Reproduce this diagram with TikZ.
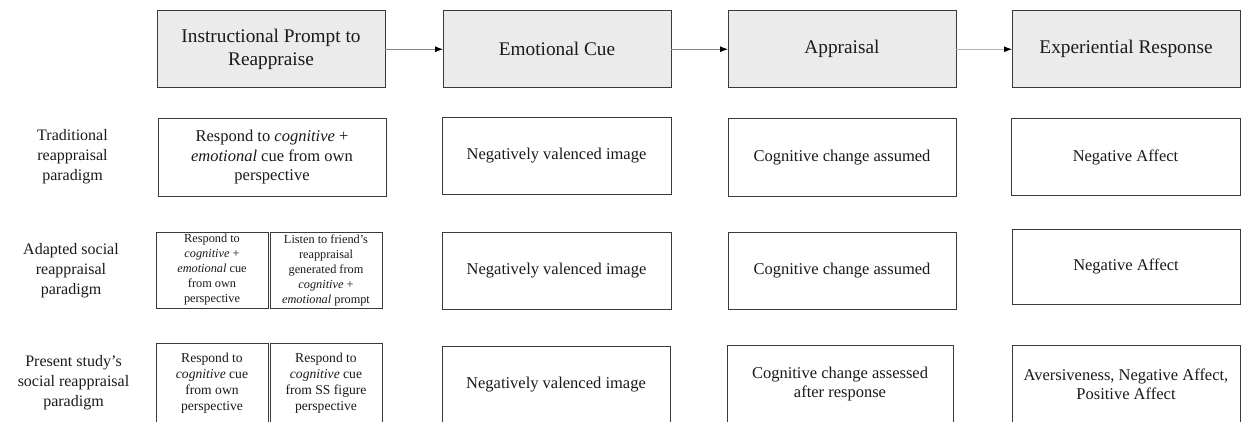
\documentclass[tikz,border=0pt]{standalone}
\usepackage{fontspec}
\setmainfont{Liberation Serif}
\usetikzlibrary{arrows.meta}
\definecolor{hdrfill}{HTML}{EBEBEB}
\definecolor{boxline}{HTML}{3A3A3A}
\definecolor{txt}{HTML}{1A1A1A}
\definecolor{arrline}{HTML}{858585}
\definecolor{arrlight}{HTML}{B0B0B0}
\tikzset{
  basebox/.style={draw=boxline, line width=1pt, inner sep=0pt, outer sep=0pt,
    align=center, text=txt, rectangle},
  hdrbox/.style={basebox, fill=hdrfill, minimum width=228pt, minimum height=77.5pt,
    font=\fontsize{19.3}{23}\selectfont},
  rowbox/.style={basebox, font=\fontsize{16.5}{19.5}\selectfont},
  smallbox/.style={basebox, font=\fontsize{12.3}{15}\selectfont},
  midbox/.style={basebox, font=\fontsize{13.6}{16.3}\selectfont},
  rowlabel/.style={align=center, text=txt, inner sep=0pt, font=\fontsize{16}{20}\selectfont},
  arr/.style={draw=arrline, line width=0.9pt, -{Latex[length=8pt,width=6pt,color=black]}},
  arrlt/.style={draw=arrlight, line width=0.9pt, -{Latex[length=8pt,width=6pt,color=black]}}
}
\begin{document}
\begin{tikzpicture}[x=1pt,y=-1pt]
\useasboundingbox (0,0) rectangle (1241,422);
\clip (0,0) rectangle (1241,422);
\fill[white] (0,0) rectangle (1241,422);

% header
\node[hdrbox] (h1) at (271,49.25) {Instructional Prompt to\\Reappraise};
\node[hdrbox] (h2) at (557,49.25) {Emotional Cue};
\node[hdrbox] (h3) at (842,49.25) {Appraisal};
\node[hdrbox] (h4) at (1126,49.25) {Experiential Response};

\draw[arr] (h1.east) -- (h2.west);
\draw[arr] (h2.east) -- (h3.west);
\draw[arrlt] (h3.east) -- (h4.west);

% row labels
\node[rowlabel] (l1) at (72.5,157) {Traditional\\reappraisal\\paradigm};
\node[rowlabel] (l2) at (71,271) {Adapted social\\reappraisal\\paradigm};
\node[rowlabel] (l3) at (73.5,383) {Present study’s\\social reappraisal\\paradigm};

% row 1
\node[rowbox, minimum width=228pt, minimum height=77pt] (r1a) at (272,157.5)
  {Respond to \textit{cognitive} +\\\textit{emotional} cue from own\\perspective};
\node[rowbox, minimum width=229pt, minimum height=76pt] (r1b) at (556.5,156)
  {Negatively valenced image};
\node[rowbox, minimum width=228pt, minimum height=77pt] (r1c) at (842,157.5)
  {Cognitive change assumed};
\node[rowbox, minimum width=229pt, minimum height=76pt] (r1d) at (1125.5,157)
  {Negative Affect};

% row 2
\node[smallbox, minimum width=112pt, minimum height=76pt] (r2a1) at (212,270)
  {Respond to\\\textit{cognitive} +\\\textit{emotional} cue\\from own\\perspective};
\node[smallbox, minimum width=112pt, minimum height=76pt] (r2a2) at (326,270)
  {Listen to friend’s\\reappraisal\\generated from\\\textit{cognitive} +\\\textit{emotional} prompt};
\node[rowbox, minimum width=229pt, minimum height=77pt] (r2b) at (556.5,270.5)
  {Negatively valenced image};
\node[rowbox, minimum width=228pt, minimum height=77pt] (r2c) at (842,270.5)
  {Cognitive change assumed};
\node[rowbox, minimum width=228pt, minimum height=75pt] (r2d) at (1126,266.5)
  {Negative Affect};

% row 3 (bottom edges lie just past the picture)
\node[midbox, minimum width=112pt, minimum height=80.5pt] (r3a1) at (212,383.25)
  {Respond to\\\textit{cognitive} cue\\from own\\perspective};
\node[midbox, minimum width=112pt, minimum height=80.5pt] (r3a2) at (326,383.25)
  {Respond to\\\textit{cognitive} cue\\from SS figure\\perspective};
\node[rowbox, minimum width=228pt, minimum height=77.5pt] (r3b) at (556,384.75)
  {Negatively valenced image};
\node[rowbox, minimum width=226pt, minimum height=78.5pt] (r3c) at (840,384.25)
  {Cognitive change assessed\\after response};
\node[rowbox, minimum width=228pt, minimum height=78.5pt] (r3d) at (1126,384.25)
  {Aversiveness, Negative Affect,\\Positive Affect};
\end{tikzpicture}
\end{document}
